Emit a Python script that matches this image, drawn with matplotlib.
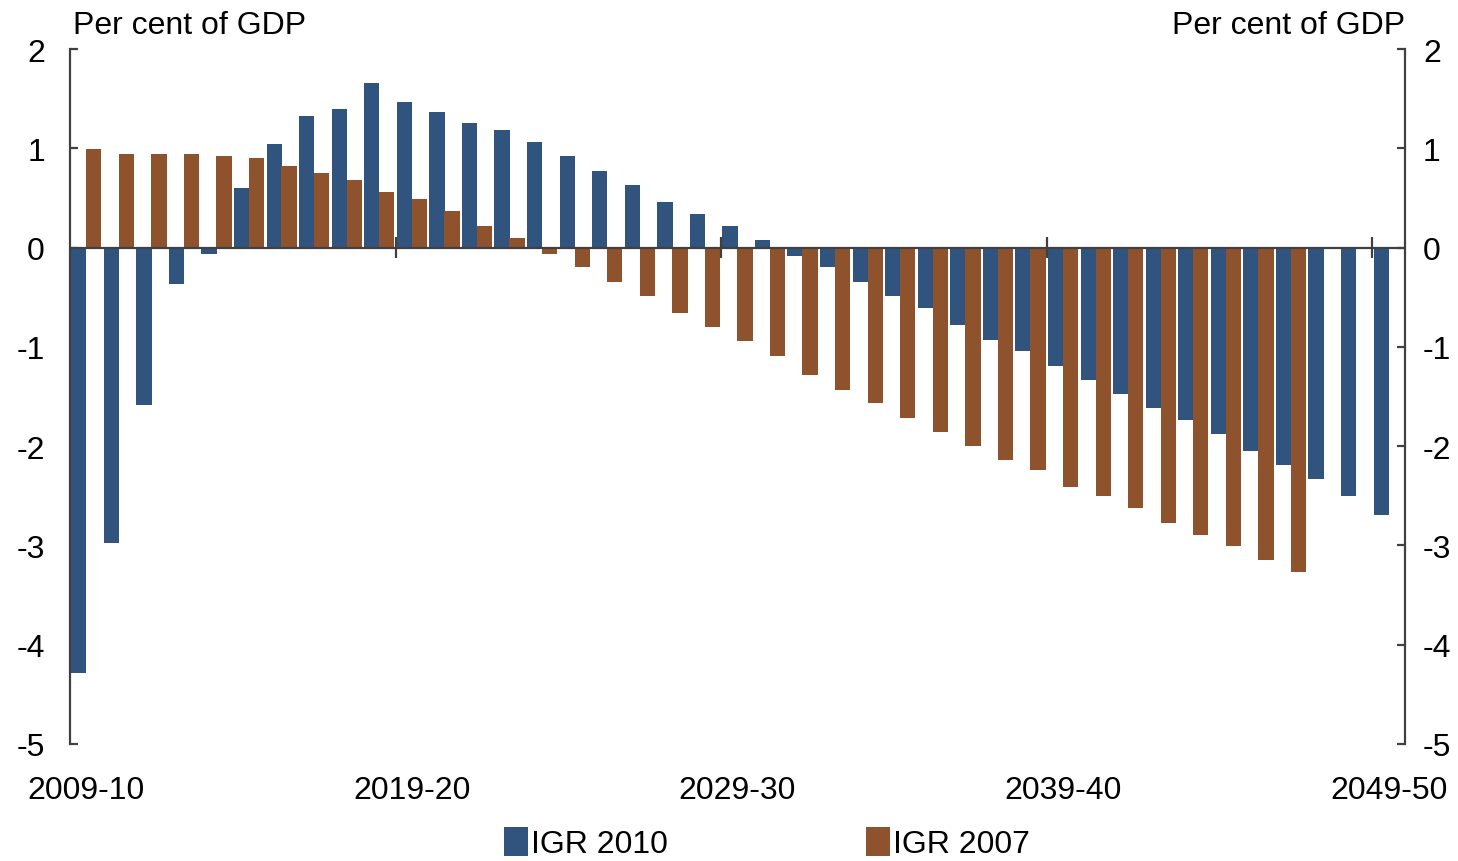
import numpy as np
import matplotlib.pyplot as plt
from matplotlib.transforms import ScaledTranslation

plt.rcParams['font.family'] = ['Liberation Sans', 'DejaVu Sans']
plt.rcParams['axes.unicode_minus'] = False

years = [f"{y}-{(y + 1) % 100:02d}" for y in range(2009, 2050)]
tick_years = ["2009-10", "2019-20", "2029-30", "2039-40", "2049-50"]

# IGR 2010 budget balance, 2009-10 to 2049-50
igr_2010 = [-4.28, -2.98, -1.59, -0.37, -0.06, 0.60, 1.04, 1.33, 1.40, 1.66,
            1.47, 1.37, 1.25, 1.18, 1.06, 0.92, 0.77, 0.63, 0.46, 0.34,
            0.22, 0.08, -0.08, -0.20, -0.35, -0.49, -0.61, -0.78, -0.93, -1.04,
            -1.19, -1.33, -1.47, -1.62, -1.74, -1.88, -2.05, -2.19, -2.33, -2.50,
            -2.69]
# IGR 2007 budget balance, 2009-10 to 2046-47
igr_2007 = [0.99, 0.94, 0.94, 0.94, 0.92, 0.90, 0.82, 0.75, 0.68, 0.56,
            0.49, 0.37, 0.22, 0.10, -0.06, -0.20, -0.35, -0.49, -0.66, -0.80,
            -0.94, -1.09, -1.28, -1.43, -1.57, -1.72, -1.86, -2.00, -2.14, -2.24,
            -2.41, -2.50, -2.62, -2.77, -2.89, -3.01, -3.15, -3.27]

blue = '#31547f'
brown = '#8e522d'
dark = '#404040'
fs = 23

fig = plt.figure(figsize=(14.58, 8.62), dpi=100)
ax = fig.add_axes([70 / 1458, 1 - 745 / 862, 1335 / 1458, 695 / 862])

x10 = np.arange(len(igr_2010))
x07 = np.arange(len(igr_2007))
w = 0.47
ax.bar(x10 + 0.27, igr_2010, width=w, color=blue, label='IGR 2010', zorder=2)
ax.bar(x07 + 0.73, igr_2007, width=w, color=brown, label='IGR 2007', zorder=2)

ax.set_xlim(0, len(years))
ax.set_ylim(-5, 2)

# zero line acts as the category axis, with ticks every ten years
ax.axhline(0, color=dark, lw=1.6, zorder=3)
ax.vlines(np.arange(10, len(years), 10), -0.11, 0.11, color=dark, lw=1.6, zorder=3)

for s in ['top', 'bottom']:
    ax.spines[s].set_visible(False)
for s in ['left', 'right']:
    ax.spines[s].set_color(dark)
    ax.spines[s].set_linewidth(1.6)

ax.set_yticks(range(-5, 3))
ax.set_yticklabels([str(v) for v in range(-5, 3)])
ax.tick_params(axis='y', direction='in', length=6, width=1.6, color=dark,
               labelsize=fs, pad=18, left=True, right=True,
               labelleft=True, labelright=True)
# right-hand labels sit a little closer to the spine
shift = ScaledTranslation(-5 / 72, 0, fig.dpi_scale_trans)
for t in ax.yaxis.get_major_ticks():
    t.label2.set_transform(t.label2.get_transform() + shift)

ax.set_xticks([years.index(t) + 0.5 for t in tick_years])
ax.set_xticklabels(tick_years)
ax.tick_params(axis='x', length=0, labelsize=fs, pad=22)

ax.text(0.002, 1.034, 'Per cent of GDP', transform=ax.transAxes, fontsize=fs,
        ha='left', va='center')
ax.text(1.0, 1.034, 'Per cent of GDP', transform=ax.transAxes, fontsize=fs,
        ha='right', va='center')

fig.legend(loc='upper center', bbox_to_anchor=(0.526, 0.058), ncol=2, frameon=False,
           fontsize=fs, handlelength=0.75, handleheight=1.0, handletextpad=0.1,
           columnspacing=6.2, borderpad=0)

fig.savefig('out.png', dpi=100)
